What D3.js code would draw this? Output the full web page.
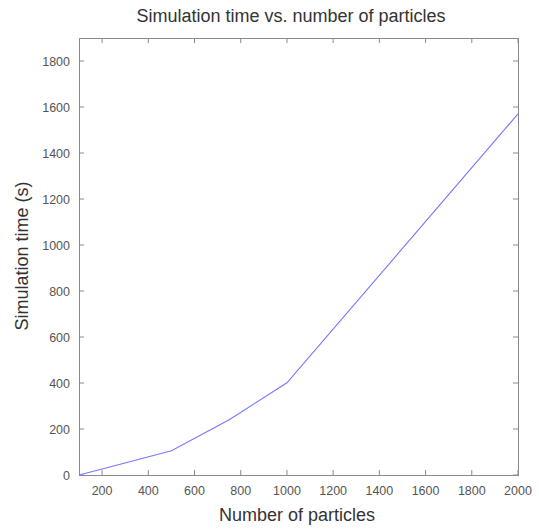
<!DOCTYPE html>
<html>
<head>
<meta charset="utf-8">
<script src="https://cdn.jsdelivr.net/npm/d3@7"></script>
<style>
  html, body { margin: 0; padding: 0; background: #fff; }
  svg { display: block; }
  text { font-family: "Liberation Sans", "DejaVu Sans", sans-serif; }
</style>
</head>
<body>
<svg id="chart" width="539" height="529"></svg>
<script>
// Measured runtimes for each particle count
const particles = [100, 200, 500, 750, 1000, 1500, 2000];
const simTime   = [0, 26, 105, 240, 401, 985, 1570];

const xTicks = [200, 400, 600, 800, 1000, 1200, 1400, 1600, 1800, 2000];
const yTicks = [0, 200, 400, 600, 800, 1000, 1200, 1400, 1600, 1800];

const titleText = "Simulation time vs. number of particles";
const xLabel = "Number of particles";
const yLabel = "Simulation time (s)";

const W = 539, H = 529;
const margin = { left: 79, right: 21, top: 38, bottom: 54 };
const svg = d3.select("#chart");

const x = d3.scaleLinear().domain([100, 2000]).range([margin.left, W - margin.right]);
const y = d3.scaleLinear().domain([0, 1900]).range([H - margin.bottom, margin.top]);

const frameColor = "#8a8a8a";
const tickLen = 5;

// Inward ticks on all four sides
const g = svg.append("g");
xTicks.forEach(t => {
  g.append("line").attr("x1", x(t)).attr("x2", x(t))
    .attr("y1", y(0)).attr("y2", y(0) - tickLen)
    .attr("stroke", frameColor);
  g.append("line").attr("x1", x(t)).attr("x2", x(t))
    .attr("y1", margin.top).attr("y2", margin.top + tickLen)
    .attr("stroke", frameColor);
});
yTicks.forEach(t => {
  g.append("line").attr("x1", margin.left).attr("x2", margin.left + tickLen)
    .attr("y1", y(t)).attr("y2", y(t))
    .attr("stroke", frameColor);
  g.append("line").attr("x1", W - margin.right).attr("x2", W - margin.right - tickLen)
    .attr("y1", y(t)).attr("y2", y(t))
    .attr("stroke", frameColor);
});

// Plot frame
svg.append("rect")
  .attr("x", margin.left + 0.5).attr("y", margin.top + 0.5)
  .attr("width", W - margin.left - margin.right)
  .attr("height", H - margin.top - margin.bottom)
  .attr("fill", "none").attr("stroke", frameColor);

// Tick labels
svg.append("g").selectAll("text").data(xTicks).join("text")
  .attr("x", d => x(d)).attr("y", y(0) + 20)
  .attr("text-anchor", "middle")
  .attr("font-size", 12.5).attr("fill", "#555")
  .text(d => d);

svg.append("g").selectAll("text").data(yTicks).join("text")
  .attr("x", margin.left - 9).attr("y", d => y(d) + 4.5)
  .attr("text-anchor", "end")
  .attr("font-size", 12.5).attr("fill", "#555")
  .text(d => d);

// Data line
const line = d3.line().x((d, i) => x(particles[i])).y(d => y(d));
svg.append("path")
  .datum(simTime)
  .attr("d", line)
  .attr("fill", "none")
  .attr("stroke", "#7777ff")
  .attr("stroke-width", 1.1);

// Titles
svg.append("text")
  .attr("x", 291).attr("y", 22)
  .attr("text-anchor", "middle")
  .attr("font-size", 18).attr("fill", "#333")
  .text(titleText);

svg.append("text")
  .attr("x", 297).attr("y", 521)
  .attr("text-anchor", "middle")
  .attr("font-size", 18).attr("fill", "#333")
  .text(xLabel);

svg.append("text")
  .attr("transform", "translate(28, 256) rotate(-90)")
  .attr("text-anchor", "middle")
  .attr("font-size", 18).attr("fill", "#333")
  .text(yLabel);
</script>
</body>
</html>
